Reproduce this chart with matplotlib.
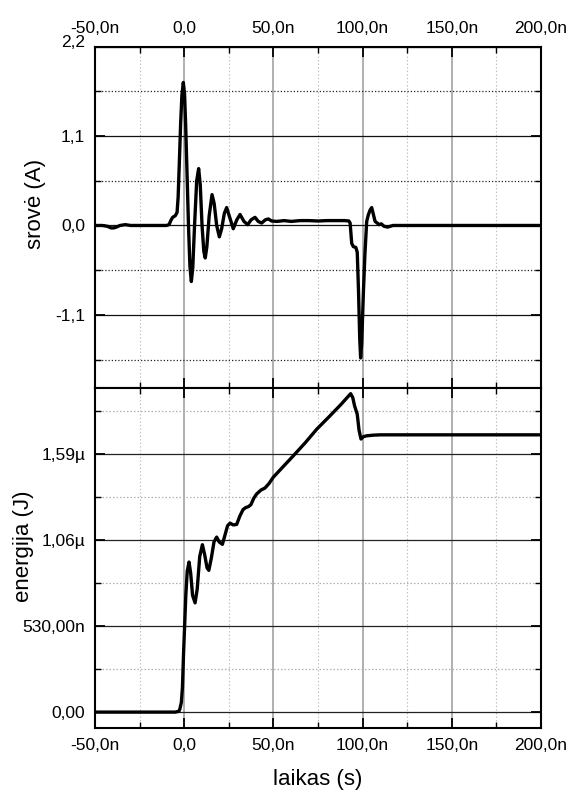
import matplotlib
matplotlib.use("Agg")
import matplotlib.pyplot as plt
from matplotlib.ticker import FixedLocator, FixedFormatter
from matplotlib.transforms import ScaledTranslation

plt.rcParams['font.family'] = ['Liberation Sans', 'DejaVu Sans']

# time axis (ns)
x_ticks = [-50, 0, 50, 100, 150, 200]
x_minor = [-25, 25, 75, 125, 175]
x_labels = ["-50,0n", "0,0", "50,0n", "100,0n", "150,0n", "200,0n"]

# current (A) vs time (ns)
t_cur = [-50, -46, -43, -41, -39.5, -38, -36, -33, -30, -25, -20, -15, -10,
         -8.5, -7.5, -6.5, -5, -4, -3.4, -2.7, -2.0, -1.3, -0.5, 0.2, 0.8,
         1.4, 2.4, 3.2, 4.0, 4.8, 5.8, 7.0, 8.1, 9.0, 10.0, 11.0, 11.8, 12.7,
         14.0, 15.6, 16.8, 18.2, 19.7, 21.0, 22.5, 23.8, 25.5, 27.5, 29.5,
         31.3, 33.5, 35.6, 37.5, 39.7, 41.5, 43.4, 45.5, 47.2, 49, 52, 56, 60,
         65, 70, 75, 80, 85, 90, 92.3, 93.0, 93.9, 94.8, 96.2, 97.0, 97.7,
         98.4, 98.9, 99.5, 100.4, 101.3, 102.3, 103.2, 104.2, 105.1, 106.0,
         107.0, 108.2, 109.2, 110.5, 112, 114, 117, 120, 130, 140, 150, 160,
         170, 180, 190, 200]
i_cur = [0.0, 0.0, -0.01, -0.03, -0.03, -0.02, 0.0, 0.01, 0.0, 0.0, 0.0, 0.0, 0.0,
         0.01, 0.06, 0.10, 0.12, 0.16, 0.35, 0.79, 1.25, 1.6, 1.76, 1.62, 1.25,
         0.79, 0.0, -0.5, -0.69, -0.52, 0.0, 0.55, 0.70, 0.5, 0.0, -0.32, -0.40, -0.26,
         0.12, 0.38, 0.27, 0.0, -0.14, -0.04, 0.15, 0.22, 0.10, -0.04, 0.07,
         0.135, 0.05, 0.01, 0.07, 0.10, 0.05, 0.03, 0.07, 0.08, 0.055, 0.05, 0.06, 0.05,
         0.06, 0.06, 0.055, 0.06, 0.06, 0.06, 0.055, 0.03, -0.22, -0.26, -0.27, -0.33, -0.8,
         -1.4, -1.63, -1.45, -0.85, -0.35, 0.05, 0.13, 0.19, 0.22, 0.14,
         0.05, 0.03, 0.01, 0.02, -0.01, -0.02, 0.0, 0.0, 0.0, 0.0, 0.0, 0.0,
         0.0, 0.0, 0.0, 0.0]

cur_ticks = [-1.1, 0.0, 1.1, 2.2]
cur_minor = [-1.65, -0.55, 0.55, 1.65]
cur_labels = ["-1,1", "0,0", "1,1", "2,2"]

# energy (uJ) vs time (ns)
t_en = [-50, -20, -5, -3, -2.4, -1.6, -1.0, -0.3, 0.3, 0.9, 1.7, 2.7, 3.6, 4.7,
        6.1, 7.3, 8.7, 10.2, 11.5, 12.8, 13.8, 15.2, 16.7, 18.2, 19.6, 21.4,
        22.8, 24.3, 25.7, 27.5, 29.4, 31.2, 33.0, 34.5, 36, 37.4, 39, 40.6, 43,
        45.3, 47.5, 49.9, 55.5, 61.2, 68, 74.3, 81.7, 88, 93.3, 94.5, 95.5,
        97.0, 98.0, 99.1, 100.5, 102.3, 106, 110, 150, 200]
e_en = [0.0, 0.0, 0.0, 0.005, 0.02, 0.06, 0.15, 0.38, 0.55, 0.72, 0.87, 0.926, 0.86, 0.72,
        0.674, 0.76, 0.96, 1.033, 0.97, 0.89, 0.875, 0.95, 1.05, 1.08, 1.05, 1.035,
        1.09, 1.15, 1.166, 1.155, 1.158, 1.21, 1.25, 1.262, 1.268, 1.28, 1.32, 1.346, 1.37,
        1.383, 1.41, 1.449, 1.515, 1.582, 1.664, 1.746, 1.828, 1.90, 1.965, 1.94, 1.89,
        1.838, 1.74, 1.685, 1.70, 1.705, 1.709, 1.711, 1.711, 1.711]

en_ticks = [0.0, 0.53, 1.06, 1.59]
en_minor = [0.265, 0.795, 1.325, 1.855]
en_labels = ["0,00", "530,00n", "1,06\u00b5", "1,59\u00b5"]

W, H = 571, 792
fig = plt.figure(figsize=(W / 100, H / 100), dpi=100)

left, right = 95, 541
top1, mid, bot2 = 46.7, 388, 728.3
ax1 = fig.add_axes([left / W, 1 - mid / H, (right - left) / W, (mid - top1) / H])
ax2 = fig.add_axes([left / W, 1 - bot2 / H, (right - left) / W, (bot2 - mid) / H])


def style(ax, yt, ym, yl, ymaj_col, ymin_col, ymin_ls):
    ax.set_xlim(-50, 200)
    ax.xaxis.set_major_locator(FixedLocator(x_ticks))
    ax.xaxis.set_major_formatter(FixedFormatter(x_labels))
    ax.xaxis.set_minor_locator(FixedLocator(x_minor))
    ax.yaxis.set_major_locator(FixedLocator(yt))
    ax.yaxis.set_major_formatter(FixedFormatter(yl))
    ax.yaxis.set_minor_locator(FixedLocator(ym))
    ax.grid(which='major', axis='x', color='#9a9a9a', lw=1.1, ls='-')
    ax.grid(which='minor', axis='x', color='#bdbdbd', lw=0.8, ls=(0, (1.2, 2)))
    ax.grid(which='major', axis='y', color=ymaj_col, lw=0.9, ls='-')
    ax.grid(which='minor', axis='y', color=ymin_col, lw=0.9, ls=ymin_ls)
    ax.tick_params(which='both', direction='in', top=True, right=True,
                   colors='black', labelsize=12.5, pad=7)
    ax.tick_params(which='major', length=7, width=1.3)
    ax.tick_params(which='minor', length=4, width=1.0)
    for s in ax.spines.values():
        s.set_linewidth(1.5)


style(ax1, cur_ticks, cur_minor, cur_labels, '#111111', '#222222', (0, (1, 1.6)))
ax1.set_ylim(-2.0, 2.2)
ax1.tick_params(axis='x', labeltop=True, labelbottom=False, pad=8)
ax1.plot(t_cur, i_cur, color='black', lw=2.4, solid_joinstyle='round', zorder=3)

style(ax2, en_ticks, en_minor, en_labels, '#222222', '#b0b0b0', (0, (1.2, 1.6)))
ax2.set_ylim(-0.1, 2.0)
ax2.tick_params(axis='x', labeltop=False, labelbottom=True)
ax2.plot(t_en, e_en, color='black', lw=2.4, solid_joinstyle='round', zorder=3)

# lift the topmost current label slightly above the frame corner
fig.canvas.draw()
for lbl in ax1.get_yticklabels():
    if lbl.get_text() == "2,2":
        lbl.set_transform(lbl.get_transform() + ScaledTranslation(0, 6 / 100, fig.dpi_scale_trans))

fig.text(35 / W, 1 - 204 / H, "srovė (A)", rotation=90, ha='center', va='center', fontsize=16)
fig.text(24 / W, 1 - 546 / H, "energija (J)", rotation=90, ha='center', va='center', fontsize=16)
fig.text(318 / W, 1 - 780 / H, "laikas (s)", ha='center', va='center', fontsize=16)

fig.savefig("out.png", dpi=100)
